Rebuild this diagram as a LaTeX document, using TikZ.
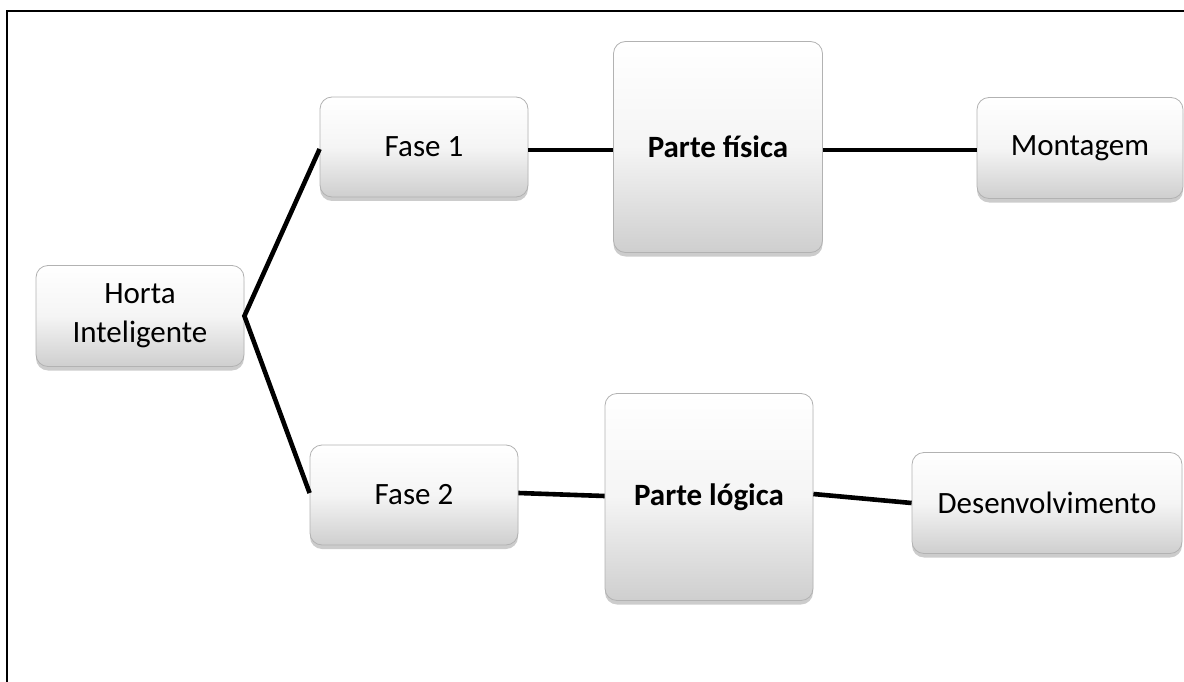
\documentclass[tikz,border=0pt]{standalone}
\usepackage{fontspec}
\setmainfont{Carlito}
\usetikzlibrary{shadows}
\begin{document}
\begin{tikzpicture}[x=1pt,y=-1pt,
  box/.style={draw=gray!60, line width=0.8pt, rounded corners=12pt,
    top color=white, bottom color=gray!38, middle color=gray!8,
    drop shadow={shadow xshift=0pt, shadow yshift=-4pt, opacity=0.4, fill=gray},
    align=center, inner sep=0pt, font=\fontsize{31}{39}\selectfont},
  link/.style={line width=4.6pt, black}]
\useasboundingbox (0,0) rectangle (1184,682);
\draw[line width=1.6pt] (7,684) -- (7,11) -- (1186,11);
\node[box, minimum width=208pt, minimum height=101pt] (horta) at (140,316) {Horta\\Inteligente};
\node[box, minimum width=208pt, minimum height=100pt] (f1) at (424,147) {Fase 1};
\node[box, minimum width=209pt, minimum height=211pt] (pf) at (718,147) {\bfseries Parte física};
\node[box, minimum width=206pt, minimum height=101pt] (mont) at (1080,148) {Montagem};
\node[box, minimum width=208pt, minimum height=100pt] (f2) at (414,495) {Fase 2};
\node[box, minimum width=208pt, minimum height=207pt] (pl) at (709,497) {\bfseries Parte lógica};
\node[box, minimum width=270pt, minimum height=101pt] (dev) at (1047,503) {Desenvolvimento};
\coordinate (apex) at (horta.east);
\draw[link, line join=miter] ([yshift=-2pt]f1.west) -- (apex) -- ([yshift=2pt]f2.west);
\draw[link] ([yshift=-3pt]f1.east) -- ([yshift=-3pt]f1.east -| pf.west);
\draw[link] ([yshift=-3pt]pf.east) -- ([yshift=-3pt]pf.east -| mont.west);
\draw[link] ([yshift=2pt]f2.east) -- ([yshift=1pt]pl.west);
\draw[link] ([yshift=3pt]pl.east) -- ([yshift=0pt]dev.west);
\end{tikzpicture}
\end{document}
